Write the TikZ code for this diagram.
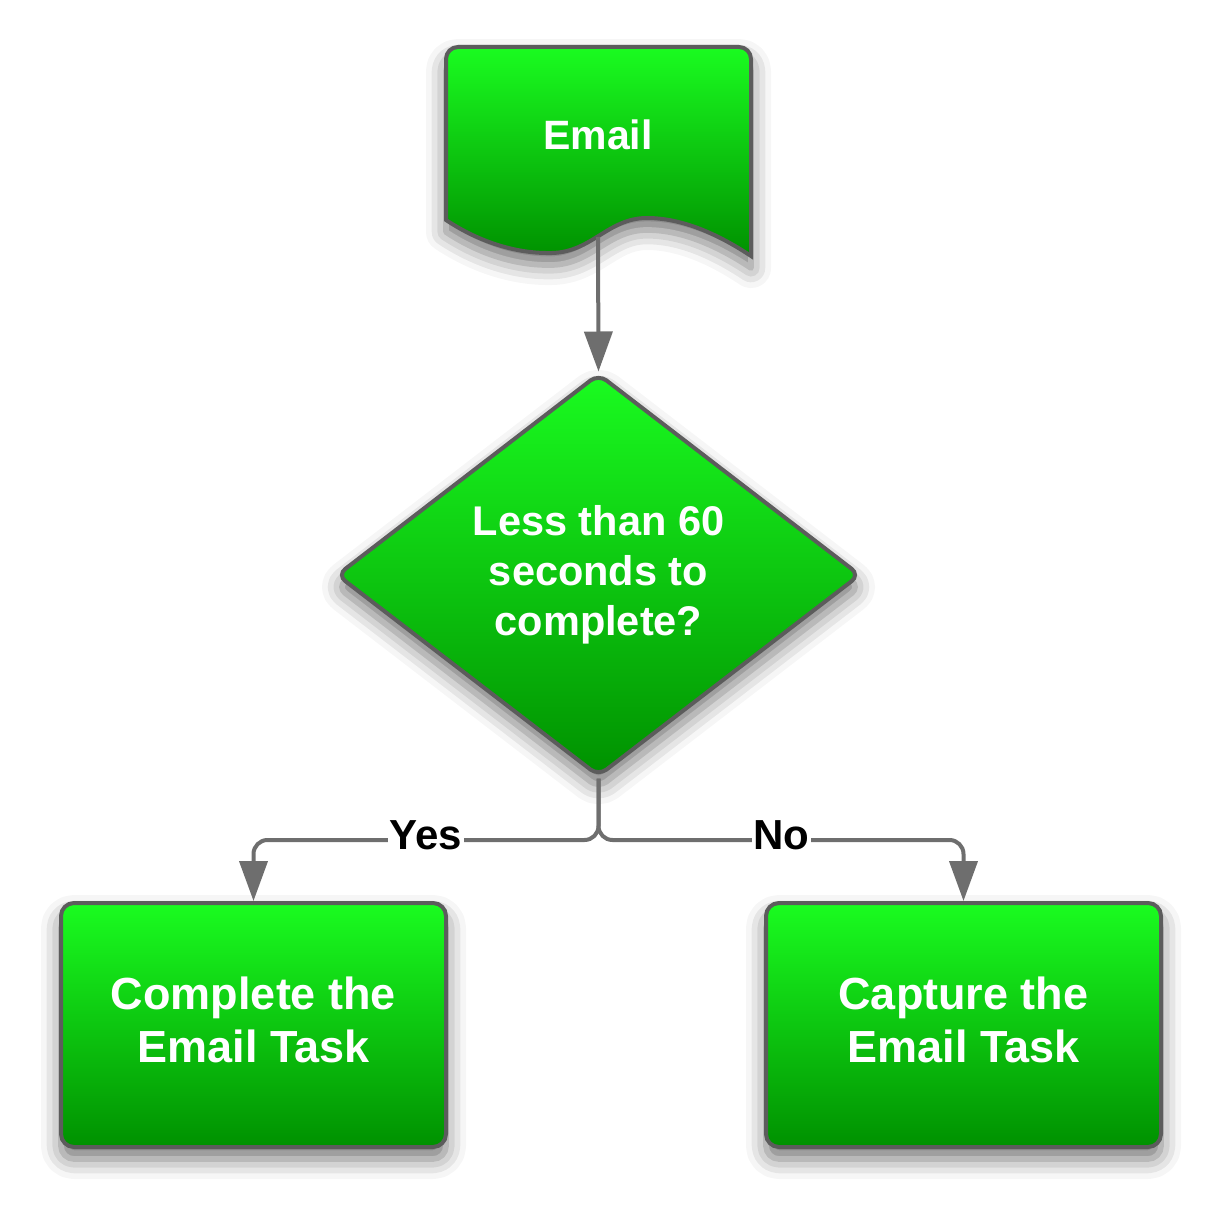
\documentclass[tikz,border=0pt]{standalone}
\usepackage{fontspec}
\setmainfont{Liberation Sans}
\usetikzlibrary{shapes.geometric,arrows.meta,shadows.blur}
\definecolor{gtop}{RGB}{26,252,32}
\definecolor{gbot}{RGB}{0,145,0}
\definecolor{edge}{RGB}{92,92,92}
\definecolor{conn}{RGB}{110,110,110}
\tikzset{
  greenfill/.style={top color=gtop, bottom color=gbot, draw=edge, line width=4pt,
    blur shadow={shadow xshift=0pt, shadow yshift=-12pt, shadow blur radius=20pt, shadow opacity=55}},
  boxtext/.style={text=white, font=\bfseries\fontsize{45}{53}\selectfont, align=center},
  procbox/.style={greenfill, rounded corners=13pt, minimum height=244pt, inner sep=0pt, boxtext},
  decision/.style={greenfill, diamond, rounded corners=10pt, minimum width=524pt, minimum height=403pt,
    inner sep=0pt, text=white, font=\bfseries\fontsize{41.5}{50}\selectfont, align=center},
  doctext/.style={text=white, font=\bfseries\fontsize{41}{48}\selectfont},
  link/.style={draw=conn, line width=4pt, -{Triangle[length=40pt,width=28pt]}, rounded corners=14pt},
  branchlabel/.style={fill=white, text=black, inner sep=1.5pt, font=\bfseries\fontsize{42}{48}\selectfont}
}
\newcommand{\twolines}[2]{\raisebox{6pt}{\begin{tabular}{@{}c@{}}#1\\#2\end{tabular}}}
\begin{document}
\begin{tikzpicture}[x=1pt,y=-1pt]
\useasboundingbox (0,0) rectangle (1219,1207);
% document shape
\path[greenfill] (446,220) [rounded corners=12pt] -- (446,47) -- (751,47) [sharp corners] -- (751,256)
  .. controls (718,234) and (682,218) .. (647,218)
  .. controls (608,218) and (592,252) .. (552,253)
  .. controls (508,254) and (470,236) .. (446,220) -- cycle;
\node[doctext] (email) at (598,135) {Email};
\coordinate (emailbot) at (598,237);
% decision
\node[decision] (dec) at (598.5,575) {\raisebox{3pt}{\begin{tabular}{@{}c@{}}Less than 60\\seconds to\\complete?\end{tabular}}};
% boxes
\node[procbox, minimum width=385pt] (yesbox) at (253.5,1025) {\twolines{Complete the}{Email Task}};
\node[procbox, minimum width=395pt] (nobox) at (963.5,1025) {\twolines{Capture the}{Email Task}};
% connectors
\draw[link] (emailbot) -- (dec.north);
\coordinate (split) at (598.5,840);
\draw[link] (dec.south) -- (split) -- (yesbox.north |- split) -- (yesbox.north);
\draw[link] (dec.south) -- (split) -- (nobox.north |- split) -- (nobox.north);
\node[branchlabel] (yes) at (426,835) {Yes};
\node[branchlabel] (no) at (781.5,835) {No};
\end{tikzpicture}
\end{document}
